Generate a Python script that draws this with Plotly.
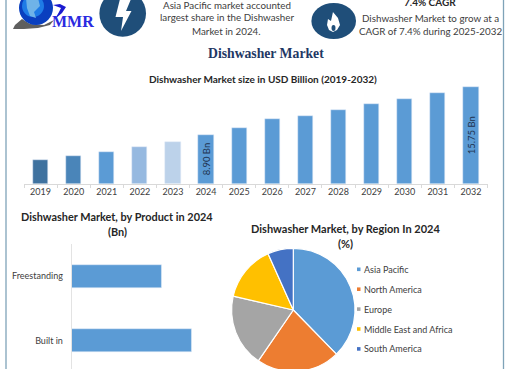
import plotly.graph_objects as go

W, H = 510, 374  # canvas is a few px taller than the window: the pie runs off the bottom edge

years = ["2019","2020","2021","2022","2023","2024","2025","2026","2027","2028","2029","2030","2031","2032"]
market = [5.33,5.86,6.47,7.19,7.94,8.90,9.97,11.23,11.65,12.47,13.32,14.08,14.89,15.75]
bar_colors = ["#3F729F","#4A85B9","#5B9BD5","#96B9E0","#BCD2EA"] + ["#5B9BD5"]*9
labelled_years = {"2024": "8.90 Bn", "2032": "15.75 Bn"}

products = ["Built in","Freestanding"]
product_vals = [5.09,3.81]

regions = ["Asia Pacific","North America","Europe","Middle East and Africa","South America"]
region_vals = [37.7,21.9,19.0,14.7,6.7]
region_colors = ["#5B9BD5","#ED7D31","#A5A5A5","#FFC000","#4472C4"]

Y_FLOOR = 1.98

def fx(px): return px / W
def fy(px): return 1 - px / H

fig = go.Figure()

fig.add_trace(go.Bar(x=years, y=market, marker_color=bar_colors, width=0.46,
    xaxis="x", yaxis="y", hoverinfo="skip"))

fig.add_trace(go.Bar(y=products, x=product_vals, orientation="h", marker_color="#5B9BD5",
    width=0.354, xaxis="x2", yaxis="y2", hoverinfo="skip"))

fig.add_trace(go.Pie(labels=regions, values=region_vals, sort=False, direction="clockwise",
    rotation=0, marker=dict(colors=region_colors, line=dict(color="white", width=1.2)),
    textinfo="none", hoverinfo="skip", showlegend=False,
    domain=dict(x=[fx(293.3-61.7), fx(293.3+61.7)], y=[fy(310+61.7), fy(310-61.7)])))

fig.update_layout(
    width=W, height=H, margin=dict(l=0,r=0,t=0,b=0), autosize=False,
    paper_bgcolor="white", plot_bgcolor="white", showlegend=False, bargap=0,
    font=dict(family="Lato", color="#404040"),
    xaxis=dict(domain=[fx(24), fx(487.5)], anchor="y", type="category",
        range=[-0.5,13.5], showgrid=False, showline=True, linecolor="#D9D9D9", linewidth=1,
        ticks="outside", tickson="boundaries", ticklen=3, tickcolor="#D9D9D9",
        tickfont=dict(size=9, color="#404040", family="Lato"), tickangle=0),
    yaxis=dict(domain=[fy(183.5), fy(80)], anchor="x", range=[Y_FLOOR, Y_FLOOR+103.5*0.1427],
        visible=False),
    xaxis2=dict(domain=[fx(71.7), fx(200)], anchor="y2", range=[0, 128.3*8.9/210], visible=False),
    yaxis2=dict(domain=[fy(H), fy(244)], anchor="x2", type="category",
        range=[-(H-340.5)/64.2, 1+(276.3-244)/64.2],
        showgrid=False, showline=True, linecolor="#E3E3E3", linewidth=1, ticks="",
        ticklabelstandoff=6,
        tickfont=dict(size=9, color="#404040", family="Lato")),
)

# value labels, centred in the visible part of the bar
for yr, lab in labelled_years.items():
    i = years.index(yr)
    fig.add_annotation(xref="x", yref="y", x=i, y=(market[i] + Y_FLOOR) / 2, text=lab, textangle=-90,
        showarrow=False, font=dict(size=9.5, color="#1F3350", family="Lato"))

def text(x, y, s, size=10, color="#404040", family="Lato", bold=False, anchor="center"):
    fig.add_annotation(xref="paper", yref="paper", x=fx(x), y=fy(y), text=f"<b>{s}</b>" if bold else s,
        showarrow=False, xanchor=anchor, yanchor="middle", align="center",
        font=dict(size=size, color=color, family=family))

# frame
fig.add_shape(type="line", xref="paper", yref="paper", x0=fx(6), x1=fx(6), y0=fy(0), y1=fy(H), line=dict(color="#7FA3B8", width=1.3))
fig.add_shape(type="line", xref="paper", yref="paper", x0=fx(503.5), x1=fx(503.5), y0=fy(0), y1=fy(H), line=dict(color="#7FA3B8", width=1.3))

# header icons
NAVY = "#1F4E79"
def circle(cx, cy, rx, ry, color):
    fig.add_shape(type="circle", xref="paper", yref="paper", x0=fx(cx-rx), x1=fx(cx+rx), y0=fy(cy-ry), y1=fy(cy+ry),
        fillcolor=color, line_width=0)
def poly(pts, color):
    p = "M" + " L".join(f"{fx(a):.4f},{fy(b):.4f}" for a, b in pts) + " Z"
    fig.add_shape(type="path", xref="paper", yref="paper", path=p, fillcolor=color, line_width=0)

# logo
poly([(13,29),(15,25),(22,19),(30,24),(44,25),(54,20),(50,25),(38,28),(24,29)], "#5F5F5F")
circle(36, 8, 17, 17, "#0A3FBF")
circle(33, 6, 11, 11, "#1E7BE6")
poly([(26,-2),(38,-2),(40,6),(34,12),(36,18),(30,16),(27,8)], "#6FB3E8")
poly([(53,5),(60,4),(66,7),(62,13),(55,19),(59,12),(61,8)], "#1B1BD0")
text(73, 21.5, "MMR", size=16, color="#2A2AE0", family="Liberation Serif", bold=True)

circle(122.7, 13.5, 23.3, 23.3, NAVY)
poly([(120,-1),(131,-1),(126,11),(131.5,11),(121,31),(123,17),(115.5,17)], "white")
circle(333.7, 21, 22.3, 18, NAVY)
poly([(333,12),(338,18),(340,25),(337,30),(333,32),(329,30),(327,25),(328,19),(331,21)], "white")
circle(333.5, 28, 2, 3, NAVY)

# header text
text(226.5, 4.5, "Asia Pacific market accounted", size=9.8)
text(226.5, 17.5, "largest share in the Dishwasher", size=9.8)
text(226.5, 31, "Market in 2024.", size=9.8)
text(430, 2, "7.4% CAGR", size=10, color="#262626", bold=True)
text(430.3, 18, "Dishwasher Market to grow at a", size=9.8)
text(430.3, 31, "CAGR of 7.4% during 2025-2032", size=9.8)

# titles
text(266, 53.5, "Dishwasher Market", size=13.7, color="#1F3864", family="Liberation Serif", bold=True)
text(262.5, 79.5, "Dishwasher Market size in USD Billion (2019-2032)", size=10, color="#262626", bold=True)
text(117, 216.5, "Dishwasher Market, by Product in 2024", size=10.9, color="#262626", bold=True)
text(117, 231.7, "(Bn)", size=10.9, color="#262626", bold=True)
text(345, 228.2, "Dishwasher Market, by Region In 2024", size=11, color="#262626", bold=True)
text(345, 243.2, "(%)", size=11, color="#262626", bold=True)

# region key
for i, (r, c) in enumerate(zip(regions, region_colors)):
    y = 269.3 + i * 19.9
    fig.add_shape(type="rect", xref="paper", yref="paper", x0=fx(357), x1=fx(360.5), y0=fy(y-1.8), y1=fy(y+1.8), fillcolor=c, line_width=0)
    text(362.3, y, r, size=9, anchor="left")

fig.write_html("out.html", config=dict(displayModeBar=False),
    post_script="document.documentElement.style.overflow='hidden';document.body.style.margin='0';document.body.style.overflow='hidden';")
